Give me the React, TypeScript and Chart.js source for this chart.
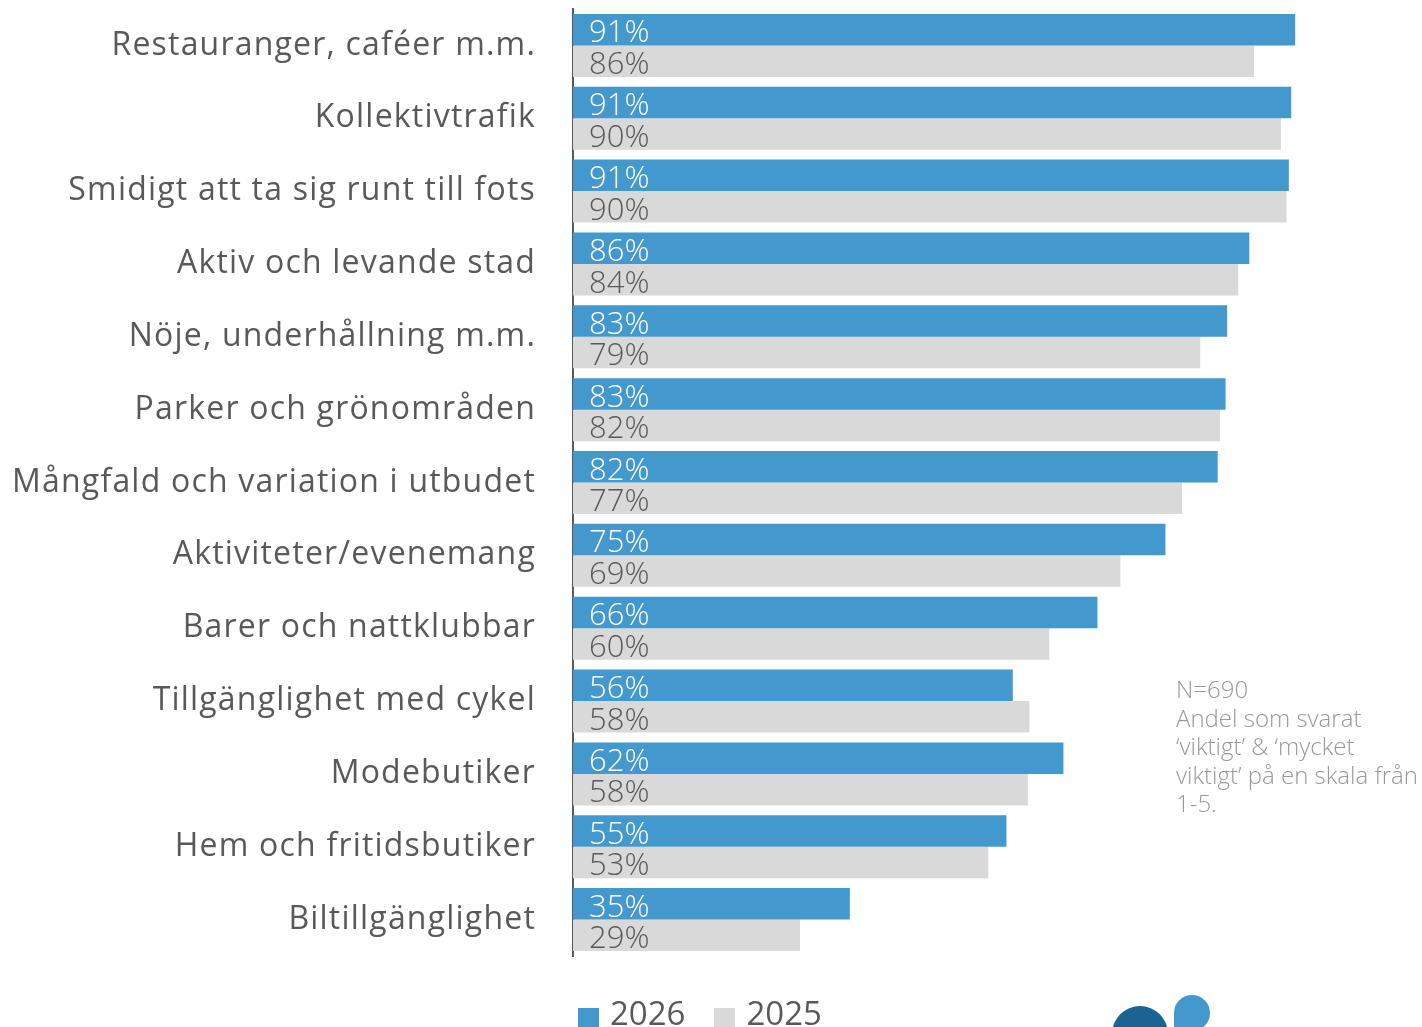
import React, { useEffect, useRef } from "react";
import { Chart, registerables } from "chart.js";

Chart.register(...registerables);

const categories = [
  "Restauranger, caféer m.m.",
  "Kollektivtrafik",
  "Smidigt att ta sig runt till fots",
  "Aktiv och levande stad",
  "Nöje, underhållning m.m.",
  "Parker och grönområden",
  "Mångfald och variation i utbudet",
  "Aktiviteter/evenemang",
  "Barer och nattklubbar",
  "Tillgänglighet med cykel",
  "Modebutiker",
  "Hem och fritidsbutiker",
  "Biltillgänglighet",
];

const values2026 = [91.3, 90.8, 90.5, 85.5, 82.7, 82.5, 81.5, 74.9, 66.3, 55.6, 62.0, 54.8, 35.0];
const values2025 = [86.1, 89.5, 90.2, 84.1, 79.3, 81.8, 77.0, 69.2, 60.2, 57.7, 57.5, 52.5, 28.7];

const seriesNames = ["2026", "2025"];
const seriesColors = ["#4398cd", "#d9d9d9"];
const labelColors = ["#ffffff", "#595959"];

const noteLines = [
  "N=690",
  "Andel som svarat",
  "‘viktigt’ & ‘mycket",
  "viktigt’ på en skala från",
  "1-5.",
];

const FONT = "'Open Sans', 'DejaVu Sans', sans-serif";

const barLabelPlugin = {
  id: "barLabels",
  afterDatasetsDraw(chart: any) {
    const ctx = chart.ctx;
    const left = chart.chartArea.left;
    chart.data.datasets.forEach((ds: any, di: number) => {
      const meta = chart.getDatasetMeta(di);
      meta.data.forEach((el: any, i: number) => {
        ctx.save();
        ctx.font = `300 31px ${FONT}`;
        ctx.fillStyle = labelColors[di];
        ctx.textAlign = "left";
        ctx.textBaseline = "middle";
        ctx.fillText(`${Math.round(ds.data[i])}%`, left + 16, el.y + 4);
        ctx.restore();
      });
    });
  },
};

const categoryLabelPlugin = {
  id: "categoryLabels",
  afterDraw(chart: any) {
    const ctx = chart.ctx;
    const y = chart.scales.y;
    ctx.save();
    ctx.font = `400 32px ${FONT}`;
    ctx.fillStyle = "#595959";
    ctx.textAlign = "right";
    ctx.textBaseline = "middle";
    try {
      (ctx as any).letterSpacing = "1.2px";
    } catch (e) {}
    (chart.data.labels as string[]).forEach((lab, i) => {
      ctx.fillText(lab, 536, y.getPixelForTick(i));
    });
    ctx.restore();
  },
};

export default function App() {
  const canvasRef = useRef<HTMLCanvasElement | null>(null);

  useEffect(() => {
    if (!canvasRef.current) return;
    const chart = new Chart(canvasRef.current, {
      type: "bar",
      data: {
        labels: categories,
        datasets: [
          {
            label: seriesNames[0],
            data: values2026,
            backgroundColor: seriesColors[0],
            borderWidth: 0,
            categoryPercentage: 0.865,
            barPercentage: 1,
          },
          {
            label: seriesNames[1],
            data: values2025,
            backgroundColor: seriesColors[1],
            borderWidth: 0,
            categoryPercentage: 0.865,
            barPercentage: 1,
          },
        ],
      },
      options: {
        indexAxis: "y",
        responsive: false,
        animation: false,
        layout: { padding: { left: 0, right: 58, top: 9, bottom: 71 } },
        plugins: {
          legend: { display: false },
          tooltip: { enabled: false },
        },
        scales: {
          x: {
            display: false,
            min: 0,
            max: 100,
          },
          y: {
            grid: { display: false, drawTicks: false },
            border: { display: true, color: "#595959", width: 2 },
            ticks: { display: false },
            afterFit(scale: any) {
              scale.width = 573;
              scale.paddingTop = 0;
              scale.paddingBottom = 0;
            },
          },
        },
      },
      plugins: [barLabelPlugin, categoryLabelPlugin],
    });
    return () => chart.destroy();
  }, []);

  return (
    <div style={{ position: "absolute", left: 0, top: 0, width: 1422, height: 1027, overflow: "hidden", background: "#fff" }}>
      <canvas ref={canvasRef} width={1422} height={1027} style={{ position: "absolute", left: 0, top: 0 }} />
      <div
        style={{
          position: "absolute",
          left: 1176,
          top: 675,
          fontFamily: FONT,
          fontWeight: 300,
          fontSize: 24,
          lineHeight: "28.5px",
          color: "#999999",
          whiteSpace: "nowrap",
        }}
      >
        {noteLines.map((l, i) => (
          <div key={i}>{l}</div>
        ))}
      </div>
      <div
        style={{
          position: "absolute",
          left: 578,
          top: 995,
          display: "flex",
          alignItems: "center",
          fontFamily: FONT,
          fontSize: 33,
          color: "#595959",
          lineHeight: "36px",
        }}
      >
        {seriesNames.map((n, i) => (
          <div key={n} style={{ display: "flex", alignItems: "center", marginRight: 29 }}>
            <div style={{ width: 21, height: 21, background: seriesColors[i], marginRight: 11, marginTop: 10 }} />
            <span>{n}</span>
          </div>
        ))}
      </div>
      <div style={{ position: "absolute", left: 1112, top: 1006, width: 56, height: 56, borderRadius: "50%", background: "#1b6392" }} />
      <div style={{ position: "absolute", left: 1174, top: 995, width: 36, height: 36, borderRadius: "50% 50% 50% 10%", background: "#4398cd" }} />
    </div>
  );
}
